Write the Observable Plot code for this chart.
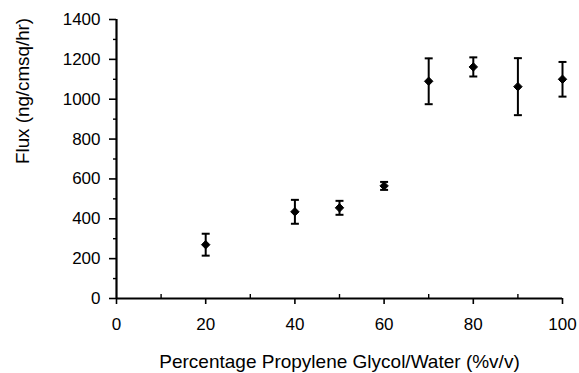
<!DOCTYPE html>
<html>
<head>
<meta charset="utf-8">
<script src="https://cdn.jsdelivr.net/npm/d3@7"></script>
<script src="https://cdn.jsdelivr.net/npm/@observablehq/plot@0.6"></script>
<style>
  html, body { margin: 0; padding: 0; background: #fff; }
  svg { display: block; }
</style>
</head>
<body>
<div id="chart"></div>
<script>
const concentration = [20, 40, 50, 60, 70, 80, 90, 100];
const flux = [270, 435, 455, 565, 1090, 1162, 1063, 1100];
const fluxError = [55, 60, 35, 20, 115, 48, 143, 87];
const xMajorTicks = [0, 20, 40, 60, 80, 100];
const xMinorTicks = [10, 30, 50, 70, 90];
const yMajorTicks = [0, 200, 400, 600, 800, 1000, 1200, 1400];
const yMinorTicks = [100, 300, 500, 700, 900, 1100, 1300];

const data = concentration.map((x, i) => ({
  x, y: flux[i], lo: flux[i] - fluxError[i], hi: flux[i] + fluxError[i]
}));

const cap = {
  draw(context, size) {
    const w = Math.sqrt(size) / 2;
    context.moveTo(-w, 0);
    context.lineTo(w, 0);
  }
};

const font = "'Liberation Sans', Arial, Helvetica, sans-serif";

const chart = Plot.plot({
  width: 579,
  height: 373,
  marginLeft: 116,
  marginRight: 17,
  marginTop: 19,
  marginBottom: 75,
  style: { fontFamily: font, fontSize: "17px", color: "#000", background: "#fff" },
  x: { domain: [0, 100] },
  y: { domain: [0, 1400] },
  marks: [
    Plot.axisY(yMajorTicks, { tickSize: 7, tickPadding: 9, strokeWidth: 1.6, fontSize: 17, tickFormat: "d", label: null }),
    Plot.axisY(yMinorTicks, { tickSize: 3, strokeWidth: 1.4, text: null, label: null }),
    Plot.axisX(xMajorTicks, { tickSize: 6, tickPadding: 13, strokeWidth: 1.6, fontSize: 17, tickFormat: "d", label: null }),
    Plot.axisX(xMinorTicks, { tickSize: -4, strokeWidth: 1.4, text: null, label: null }),
    Plot.text(["Flux (ng/cmsq/hr)"], { frameAnchor: "left", dx: -94, dy: 5, rotate: -90, fontSize: 18.8 }),
    Plot.text(["Percentage Propylene Glycol/Water (%v/v)"], { frameAnchor: "bottom", dy: 69, fontSize: 19 }),
    Plot.ruleY([0], { strokeWidth: 2.2 }),
    Plot.ruleX([0], { strokeWidth: 2.2 }),
    Plot.ruleX(data, { x: "x", y1: "lo", y2: "hi", strokeWidth: 2 }),
    Plot.dot(data, { x: "x", y: "lo", symbol: cap, r: 4.5, stroke: "#000", strokeWidth: 2 }),
    Plot.dot(data, { x: "x", y: "hi", symbol: cap, r: 4.5, stroke: "#000", strokeWidth: 2 }),
    Plot.dot(data, { x: "x", y: "y", symbol: "diamond2", r: 3.8, fill: "#000", stroke: "#000", strokeWidth: 1 })
  ]
});

document.getElementById("chart").append(chart);
</script>
</body>
</html>
